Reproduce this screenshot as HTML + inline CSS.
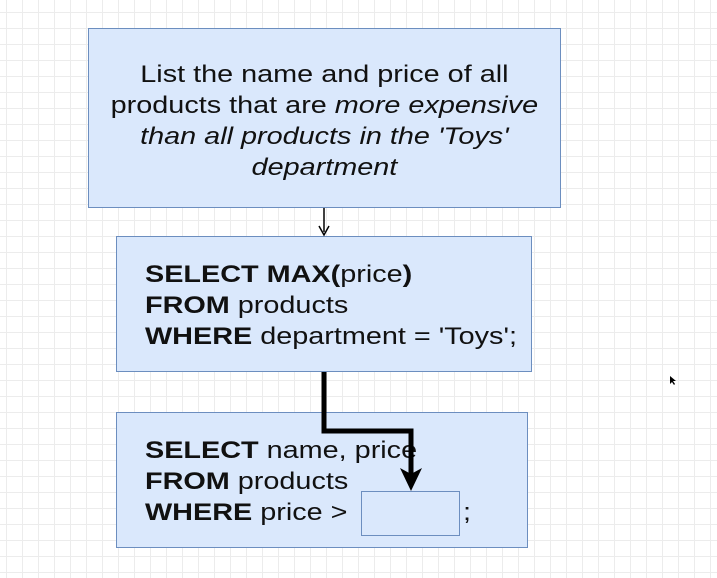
<!DOCTYPE html>
<html><head><style>
body{margin:0;width:717px;height:578px;overflow:hidden;background-color:#fff;
background-image:linear-gradient(#ececec 1px,transparent 1px),linear-gradient(90deg,#ececec 1px,transparent 1px);
background-size:16px 16px;background-position:6px 12px;font-family:"Liberation Sans",sans-serif;position:relative}
.b{position:absolute;background:#dae8fc;border:1.5px solid #6c8ebf;box-sizing:border-box}
.t{position:absolute;font-size:24px;line-height:31px;color:#111;white-space:nowrap;transform:scaleX(1.2);transform-origin:0 0}
b{font-weight:bold}
</style></head><body>
<div class="b" style="left:88px;top:28px;width:473px;height:180px"></div>
<div class="t" style="left:88px;top:59px;width:394px;text-align:center;transform-origin:0 0">List the name and price of all<br>products that are <i>more expensive</i><br><i>than all products in the 'Toys'</i><br><i>department</i></div>
<div class="b" style="left:116px;top:236px;width:416px;height:136px"></div>
<div class="t" style="left:145px;top:259px"><b>SELECT MAX(</b>price<b>)</b><br><b>FROM</b> products<br><b>WHERE</b> department = 'Toys';</div>
<div class="b" style="left:116px;top:412px;width:412px;height:136px"></div>
<div class="t" style="left:145px;top:435px"><b>SELECT</b> name, price<br><b>FROM</b> products<br><b>WHERE</b> price &gt;</div>
<div class="b" style="left:361px;top:491px;width:99px;height:45px"></div>
<div class="t" style="left:463px;top:497px">;</div>
<svg style="position:absolute;left:0;top:0" width="717" height="578">
<line x1="324" y1="208" x2="324" y2="232" stroke="#000" stroke-width="1.5"/>
<path d="M319 226 L324 235 L329 226" fill="none" stroke="#000" stroke-width="1.5"/>
<path d="M324 372 V431 H411 V474" fill="none" stroke="#000" stroke-width="5"/>
<path d="M400 468 L411 491 L422 468 L411 474 Z" fill="#000"/>
<path d="M670 376 l0 8 l2 -2 l2 3 l1 -1 l-2 -3 l3 0 z" fill="#000"/>
</svg>
</body></html>
